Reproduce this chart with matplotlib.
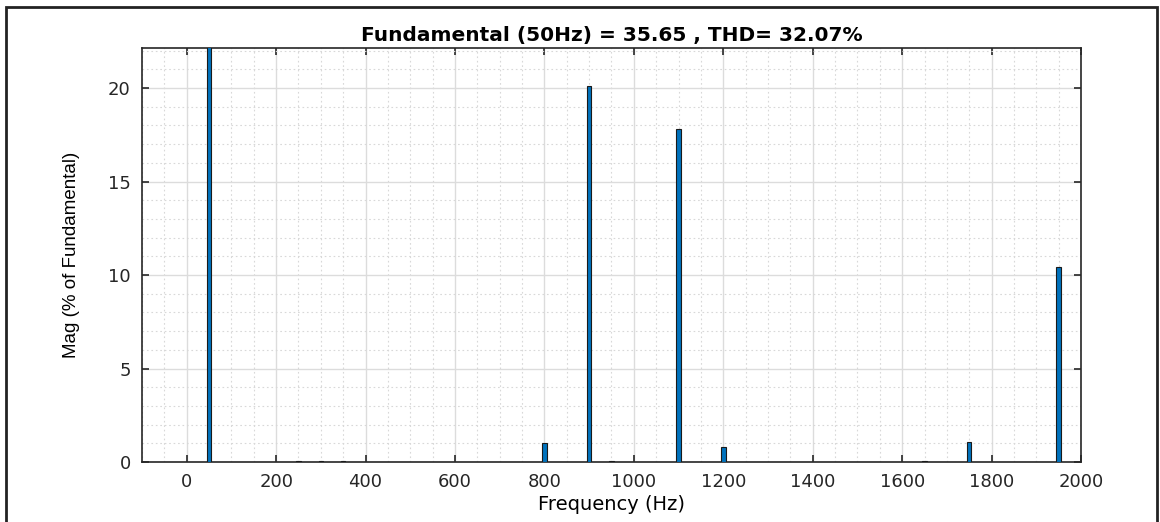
import numpy as np
import matplotlib.pyplot as plt
from matplotlib.patches import Rectangle
from matplotlib.ticker import MultipleLocator

plt.rcParams['font.family'] = ['DejaVu Sans']

# harmonic spectrum (Hz, % of fundamental)
freq = [50, 250, 300, 350, 800, 900, 950, 1100, 1200, 1650, 1750, 1950]
mag = [100.0, 0.06, 0.03, 0.06, 1.03, 20.1, 0.03, 17.8, 0.82, 0.07, 1.07, 10.45]

xticks = [0, 200, 400, 600, 800, 1000, 1200, 1400, 1600, 1800, 2000]
yticks = [0, 5, 10, 15, 20]

fig = plt.figure(figsize=(11.6, 5.22), dpi=100)
ax = fig.add_axes([0.1224, 0.1149, 0.8095, 0.7931])

ax.bar(freq, mag, width=10, color='#0072BD', edgecolor='#1a1a1a', linewidth=0.8, zorder=3)

ax.set_xlim(-100, 2000)
ax.set_ylim(0, 22.14)
ax.set_xticks(xticks)
ax.set_yticks(yticks)
ax.xaxis.set_minor_locator(MultipleLocator(50))
ax.yaxis.set_minor_locator(MultipleLocator(1))

ax.grid(True, which='major', color='#dcdcdc', linewidth=1.0, zorder=0)
ax.grid(True, which='minor', color='#d8d8d8', linestyle=(0, (1.5, 2.5)), linewidth=0.8, zorder=0)
ax.set_axisbelow(True)

ax.tick_params(which='major', direction='in', length=5, width=1.2, top=True, right=True,
               labelsize=13, colors='#262626', pad=8)
ax.tick_params(which='minor', length=0, top=True, right=True)
for s in ax.spines.values():
    s.set_linewidth(1.2)
    s.set_color('#262626')

ax.set_title('Fundamental (50Hz) = 35.65 , THD= 32.07%', fontsize=14.5, fontweight='bold', pad=5)
ax.set_xlabel('Frequency (Hz)', fontsize=14, labelpad=3)
ax.set_ylabel('Mag (% of Fundamental)', fontsize=13.5, labelpad=20, family=['Liberation Sans'])

# outer frame
fig.patches.append(Rectangle((6 / 1160, -0.05), 1151 / 1160, 1.05 - 7 / 522, transform=fig.transFigure,
                             fill=False, edgecolor='#222222', linewidth=2))

fig.savefig('out.png', dpi=100)
